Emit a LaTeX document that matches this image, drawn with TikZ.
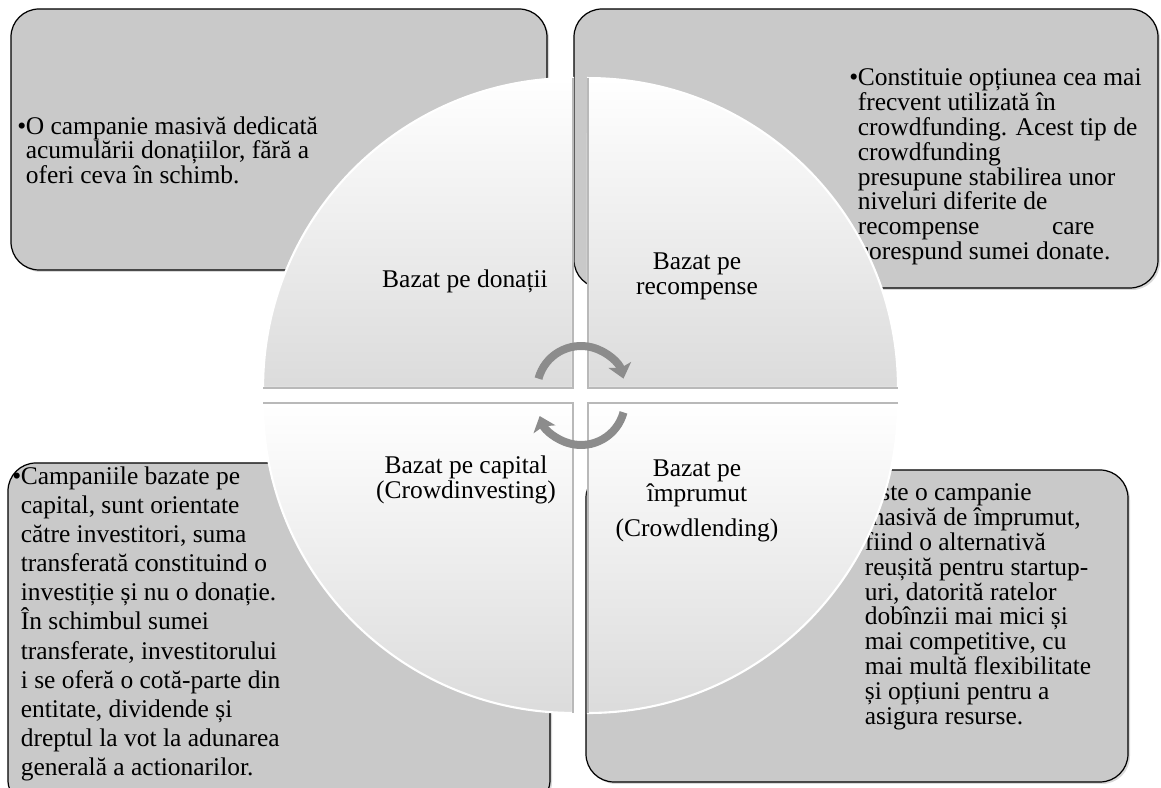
\documentclass[tikz,border=0pt]{standalone}
\usepackage{fontspec}
\setmainfont{Liberation Serif}
\usetikzlibrary{arrows.meta, positioning, shadows}

\definecolor{boxgray}{HTML}{C9C9C9}
\definecolor{arrowgray}{HTML}{8C8C8C}
\newcommand{\itembul}{\makebox[0.17cm][l]{•}}
\newcommand{\itemgap}{\hspace*{0.17cm}}

\begin{document}
\begin{tikzpicture}[x=0.02cm, y=0.02cm,
    font=\fontsize{14.5}{14.2}\selectfont,
    infobox/.style={draw=black, line width=0.7pt, fill=boxgray, rounded corners=0.56cm,
        drop shadow={shadow xshift=0.04cm, shadow yshift=-0.04cm, opacity=0.3}},
    infotext/.style={anchor=north west, inner sep=0pt, align=left},
    quarter/.style={top color=white, bottom color=gray!28, draw=white, line width=1.2pt},
    gapedge/.style={draw=gray!55, line width=0.6pt},
    qtitle/.style={align=center, inner sep=0pt},
    cyclearrow/.style={line width=0.16cm, draw=arrowgray,
        -{Stealth[length=0.28cm, width=0.46cm, inset=0.06cm]}}]
    \useasboundingbox (0,0) rectangle (1161,788);

    % Outer boxes
    \draw[infobox] (11,518) rectangle (547,779);
    \draw[infobox] (574,500) rectangle (1158,779);
    \draw[infobox] (8,-20) rectangle (550,325);
    \draw[infobox] (586,6) rectangle (1128,318);

    \node[infotext] (txtdon) at (17,672) {\itembul O campanie masivă dedicată\\
        \itemgap acumulării donațiilor, fără a\\
        \itemgap oferi ceva în schimb.};
    \node[infotext] (txtrec) at (849,720) {\itembul Constituie opțiunea cea mai\\
        \itemgap frecvent utilizată în\\
        \itemgap crowdfunding. Acest tip de\\
        \itemgap crowdfunding\\
        \itemgap presupune stabilirea unor\\
        \itemgap niveluri diferite de\\
        \itemgap recompense\hspace{1.45cm}care\\
        \itemgap corespund sumei donate.};
    \node[infotext, font=\fontsize{14.5}{16.6}\selectfont] (txtcap) at (12,322) {\itembul Campaniile bazate pe\\
        \itemgap capital, sunt orientate\\
        \itemgap către investitori, suma\\
        \itemgap transferată constituind o\\
        \itemgap investiție și nu o donație.\\
        \itemgap În schimbul sumei\\
        \itemgap transferate, investitorului\\
        \itemgap i se oferă o cotă-parte din\\
        \itemgap entitate, dividende și\\
        \itemgap dreptul la vot la adunarea\\
        \itemgap generală a actionarilor.};
    \node[infotext] (txtimp) at (856,305) {\itembul Este o campanie\\
        \itemgap masivă de împrumut,\\
        \itemgap fiind o alternativă\\
        \itemgap reușită pentru startup-\\
        \itemgap uri, datorită ratelor\\
        \itemgap dobînzii mai mici și\\
        \itemgap mai competitive, cu\\
        \itemgap mai multă flexibilitate\\
        \itemgap și opțiuni pentru a\\
        \itemgap asigura resurse.};

    % Quarters of the circle
    \draw[quarter] (573,400) -- (573,710) arc[start angle=90, end angle=180, radius=6.2cm] -- cycle;
    \draw[quarter] (588,400) -- (898,400) arc[start angle=0, end angle=90, radius=6.2cm] -- cycle;
    \draw[quarter] (573,385) -- (263,385) arc[start angle=180, end angle=270, radius=6.2cm] -- cycle;
    \draw[quarter] (588,385) -- (588,75) arc[start angle=270, end angle=360, radius=6.2cm] -- cycle;
    \draw[gapedge] (573,710) -- (573,400) -- (263,400);
    \draw[gapedge] (588,710) -- (588,400) -- (898,400);
    \draw[gapedge] (263,385) -- (573,385) -- (573,75);
    \draw[gapedge] (898,385) -- (588,385) -- (588,75);

    \node[qtitle] (don) at (465,507) {Bazat pe donații};
    \node[qtitle] (rec) at (697,512) {Bazat pe\\recompense};
    \node[qtitle] (cap) at (466,308) {Bazat pe capital\\(Crowdinvesting)};
    \node[qtitle] (imp) at (697,287) {Bazat pe\\împrumut\\[0.2cm](Crowdlending)};

    % Cycle arrows
    \draw[cyclearrow] (581,398) ++(165:0.88cm) arc[start angle=165, end angle=15, radius=0.88cm];
    \draw[cyclearrow] (581,387) ++(-15:0.88cm) arc[start angle=-15, end angle=-160, radius=0.88cm];
\end{tikzpicture}
\end{document}
